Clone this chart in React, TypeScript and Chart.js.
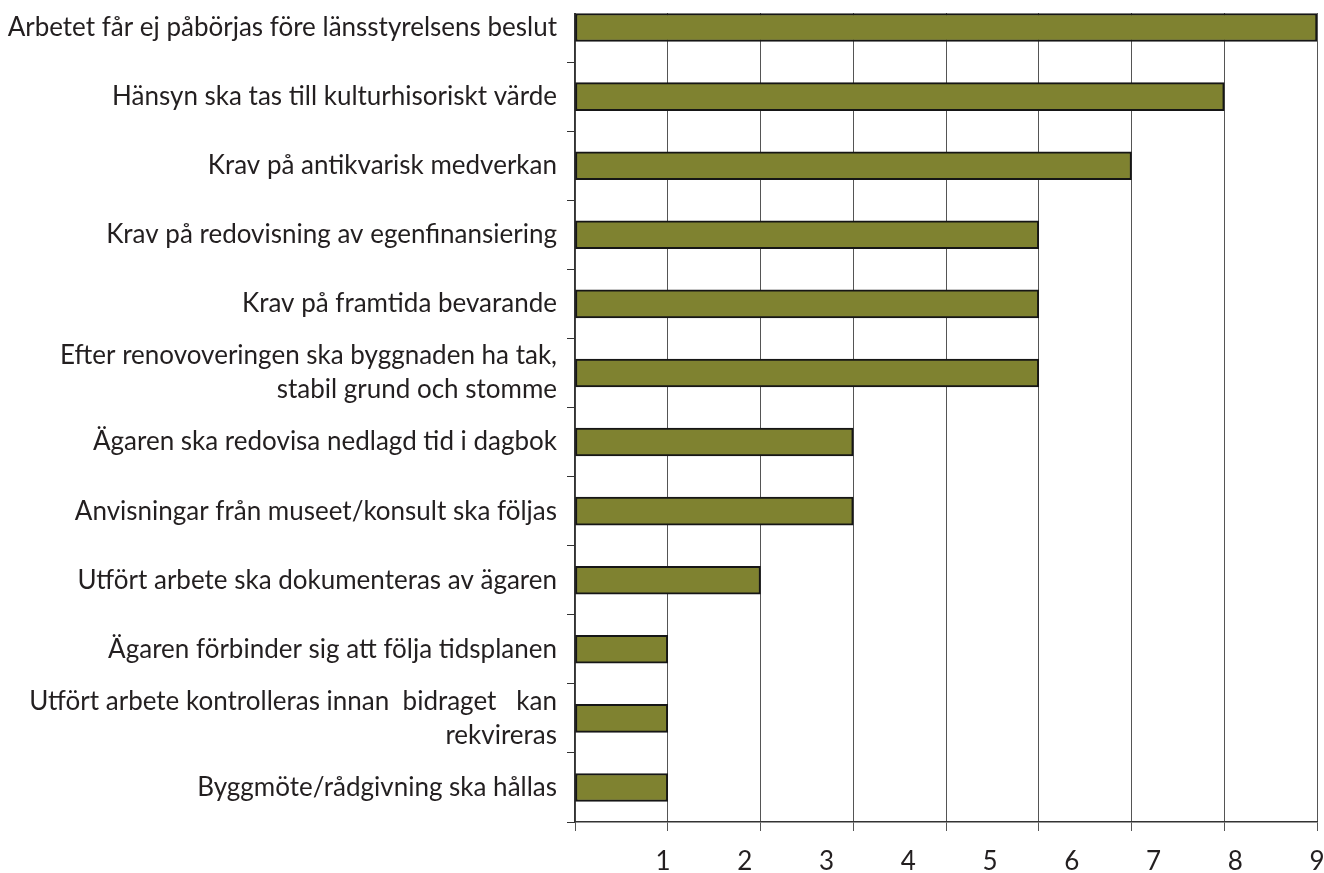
import React, { useEffect, useRef } from "react";
import { Chart, registerables } from "chart.js";

Chart.register(...registerables);

const categories: (string | string[])[] = [
  "Arbetet får ej påbörjas före länsstyrelsens beslut",
  "Hänsyn ska tas till kulturhisoriskt värde",
  "Krav på antikvarisk medverkan",
  "Krav på redovisning av egenfinansiering",
  "Krav på framtida bevarande",
  ["Efter renovoveringen ska byggnaden ha tak,", "stabil grund och stomme"],
  "Ägaren ska redovisa nedlagd tid i dagbok",
  "Anvisningar från museet/konsult ska följas",
  "Utfört arbete ska dokumenteras av ägaren",
  "Ägaren förbinder sig att följa tidsplanen",
  ["Utfört arbete kontrolleras innan  bidraget   kan", "rekvireras"],
  "Byggmöte/rådgivning ska hållas",
];

const values = [8, 7, 6, 5, 5, 5, 3, 3, 2, 1, 1, 1];

const tickLabels = ["1", "2", "3", "4", "5", "6", "7", "8", "9"];

const FONT = "Lato, 'Open Sans', sans-serif";

export default function App() {
  const ref = useRef<HTMLCanvasElement | null>(null);

  useEffect(() => {
    if (!ref.current) return;
    const chart = new Chart(ref.current, {
      type: "bar",
      data: {
        labels: categories,
        datasets: [
          {
            data: values,
            backgroundColor: "#7f8230",
            borderColor: "#161616",
            borderWidth: 2,
            borderSkipped: false,
            barThickness: 28,
            xAxisID: "x",
            yAxisID: "y",
          },
        ],
      },
      options: {
        indexAxis: "y",
        animation: false,
        responsive: false,
        devicePixelRatio: 1,
        layout: { padding: { left: 0, right: 7, top: 13, bottom: 0 } },
        plugins: {
          legend: { display: false },
          tooltip: { enabled: false },
        },
        scales: {
          y: {
            type: "category",
            position: "left",
            grid: {
              offset: true,
              drawOnChartArea: false,
              tickLength: 8,
              color: "#333",
            },
            border: { color: "#333", width: 1.5 },
            ticks: {
              color: "#231f20",
              padding: 10,
              autoSkip: false,
              font: { family: FONT, size: 26, lineHeight: 1.31 },
            },
            afterFit: (s: any) => {
              s.width = 575;
              s.paddingTop = 0;
              s.paddingBottom = 0;
            },
          },
          x: {
            type: "linear",
            position: "bottom",
            weight: 0,
            min: 0,
            max: 8,
            ticks: { display: false, stepSize: 1 },
            grid: { color: "#555", tickLength: 9, lineWidth: 1 },
            border: { color: "#333", width: 1.5 },
            afterFit: (s: any) => {
              s.height = 10;
              s.paddingLeft = 0;
              s.paddingRight = 0;
            },
          },
          x2: {
            type: "linear",
            position: "bottom",
            weight: 1,
            min: -0.076,
            max: 9,
            grid: { display: false, drawTicks: false },
            border: { display: false },
            afterBuildTicks: (s: any) => {
              s.ticks = tickLabels.map((_, i) => ({ value: i + 1 }));
            },
            ticks: {
              color: "#231f20",
              padding: 14,
              maxRotation: 0,
              autoSkip: false,
              font: { family: FONT, size: 26 },
              callback: (_v: any, i: number) => tickLabels[i],
            },
            afterFit: (s: any) => {
              s.height = 48;
              s.paddingLeft = 0;
              s.paddingRight = 0;
            },
          },
        },
      } as any,
    });
    return () => chart.destroy();
  }, []);

  return (
    <div
      style={{
        position: "absolute",
        left: 0,
        top: 13,
        width: 1324,
        height: 860,
        overflow: "hidden",
        background: "#fff",
      }}
    >
      <canvas
        ref={ref}
        width={1324}
        height={900}
        style={{ position: "absolute", left: 0, top: -33, width: 1324, height: 900 }}
      />
    </div>
  );
}
